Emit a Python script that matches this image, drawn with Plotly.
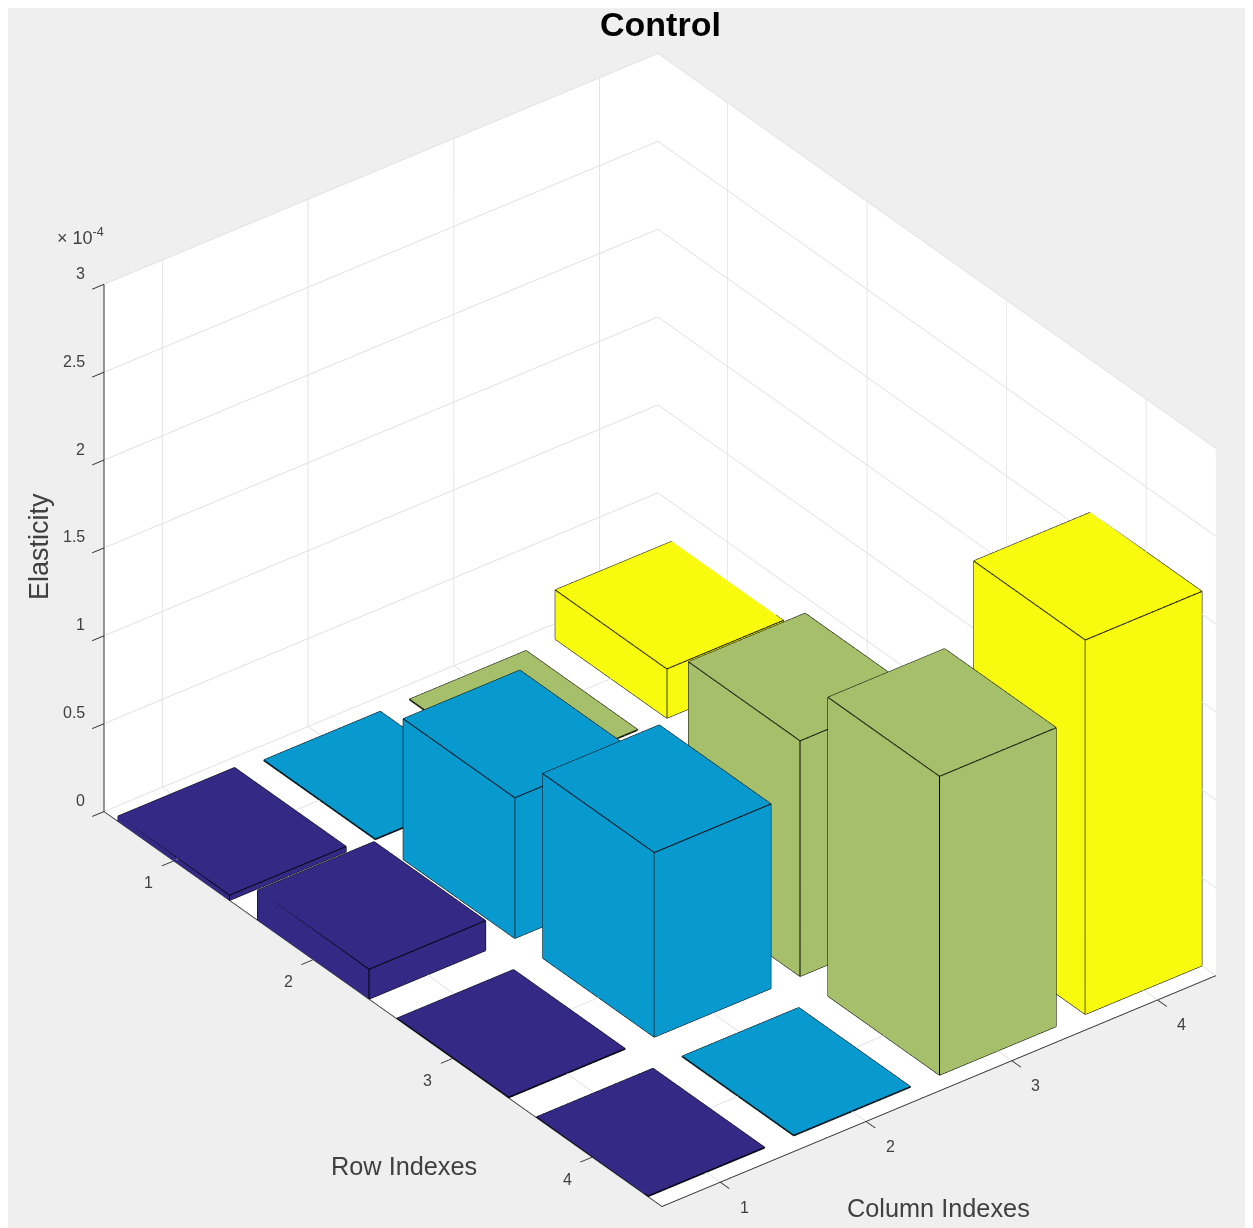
import math
import plotly.graph_objects as go

# Elasticity, in units of 1e-4; one list per column index, entries by row index 1..4
col_1 = [0.03, 0.17, 0.004, 0.004]
col_2 = [0.004, 0.80, 1.05, 0.004]
col_3 = [0.004, 0.004, 1.34, 1.70]
col_4 = [0.28, 0.004, 0.004, 2.13]
columns = [col_1, col_2, col_3, col_4]
column_colors = ["#342A85", "#0899CF", "#A6BF6B", "#F8FB0E"]
tick_index = [1, 2, 3, 4]
z_ticks = [0, 0.5, 1, 1.5, 2, 2.5, 3]
z_labels = ["0", "0.5", "1", "1.5", "2", "2.5", "3"]
half = 0.4
x_range = [0.6, 4.4]
y_range = [4.5, 0.5]
z_range = [0, 3]

W, H = 1240, 1220
PAD = 8
def px(x, y):
    return (x - PAD) / W, 1 - (y - PAD) / H

traces = []
ex, ey, ez = [], [], []
for c, vals in enumerate(columns, start=1):
    xs, ys, zs, ii, jj, kk = [], [], [], [], [], []
    for r, h in enumerate(vals, start=1):
        b = len(xs)
        x0, x1, y0, y1 = c - half, c + half, r - half, r + half
        xs += [x0, x1, x1, x0, x0, x1, x1, x0]
        ys += [y0, y0, y1, y1, y0, y0, y1, y1]
        zs += [0, 0, 0, 0, h, h, h, h]
        faces = [(0,1,2),(0,2,3),(4,5,6),(4,6,7),(0,1,5),(0,5,4),(1,2,6),(1,6,5),(2,3,7),(2,7,6),(3,0,4),(3,4,7)]
        for f in faces:
            ii.append(b + f[0]); jj.append(b + f[1]); kk.append(b + f[2])
        edges = [(0,1),(1,2),(2,3),(3,0),(4,5),(5,6),(6,7),(7,4),(0,4),(1,5),(2,6),(3,7)]
        for p, q in edges:
            ex += [xs[b+p], xs[b+q], None]
            ey += [ys[b+p], ys[b+q], None]
            ez += [zs[b+p], zs[b+q], None]
    traces.append(go.Mesh3d(x=xs, y=ys, z=zs, i=ii, j=jj, k=kk, color=column_colors[c-1],
                            flatshading=True, hoverinfo="skip", showscale=False,
                            lighting=dict(ambient=1, diffuse=0, specular=0, fresnel=0, roughness=1)))
traces.append(go.Scatter3d(x=ex, y=ey, z=ez, mode="lines", line=dict(color="#000000", width=2),
                           hoverinfo="skip", showlegend=False))

fig = go.Figure(traces)

phi = math.radians(32.9)
theta = math.radians(52.5)
R = 2.0
dz = 0.0059
d = 32 / 602
dx, dy = -d * math.sin(theta), d * math.cos(theta)
eye = dict(x=-R*math.cos(phi)*math.cos(theta) + dx, y=-R*math.cos(phi)*math.sin(theta) + dy, z=R*math.sin(phi) + dz)
ZOOM = 1.525

axis_common = dict(showbackground=True, backgroundcolor="white", gridcolor="#e0e0e0", gridwidth=2,
                   showline=True, linecolor="#303030", linewidth=2, ticks="outside", ticklen=15, tickwidth=2,
                   tickcolor="#303030", showticklabels=False,
                   zeroline=False, showspikes=False, title=dict(text=""))

tick_font = dict(family="Liberation Sans", size=16, color="#404040")
scene_notes = []
for t in tick_index:
    scene_notes.append(dict(x=t, y=y_range[0], z=0, text=str(t), showarrow=False, font=tick_font,
                            xshift=24, yshift=-25))
    scene_notes.append(dict(x=x_range[0], y=t, z=0, text=str(t), showarrow=False, font=tick_font,
                            xshift=-25, yshift=-22))
for v, lab in zip(z_ticks, z_labels):
    scene_notes.append(dict(x=x_range[0], y=y_range[1], z=v, text=lab, showarrow=False, font=tick_font,
                            xanchor="right", xshift=-17, yshift=11))

fig.update_layout(
    width=W, height=H, margin=dict(l=0, r=0, t=0, b=0), paper_bgcolor="#EFEFEF", showlegend=False,
    scene=dict(
        domain=dict(x=[0, 1], y=[0, 1202/1220]),
        aspectmode="manual", aspectratio=dict(x=ZOOM*697/915, y=ZOOM, z=ZOOM*627/915),
        camera=dict(eye=eye, center=dict(x=dx, y=dy, z=dz), up=dict(x=0, y=0, z=1),
                    projection=dict(type="orthographic")),
        xaxis=dict(axis_common, range=x_range, tickvals=tick_index),
        yaxis=dict(axis_common, range=y_range, tickvals=tick_index),
        zaxis=dict(axis_common, range=z_range, tickvals=z_ticks),
        annotations=scene_notes,
    ),
)
def note(text, x, y, size, color="#404040", angle=0, family="Liberation Sans"):
    a, b = px(x, y)
    fig.add_annotation(text=text, x=a, y=b, xref="paper", yref="paper", showarrow=False, textangle=angle,
                       font=dict(family=family, size=size, color=color), xanchor="center", yanchor="middle")
note("<b>Control</b>", 660, 24, 34, "#000000")
note("Row Indexes", 404, 1166, 25.3)
note("Column Indexes", 938, 1208, 25.3)
note("Elasticity", 39, 547, 27)
fig.layout.annotations[-1].textangle = -90
note("× 10<sup>-4</sup>", 80, 236, 18)

fig.write_html("out.html", post_script="document.body.style.overflow='hidden';")
